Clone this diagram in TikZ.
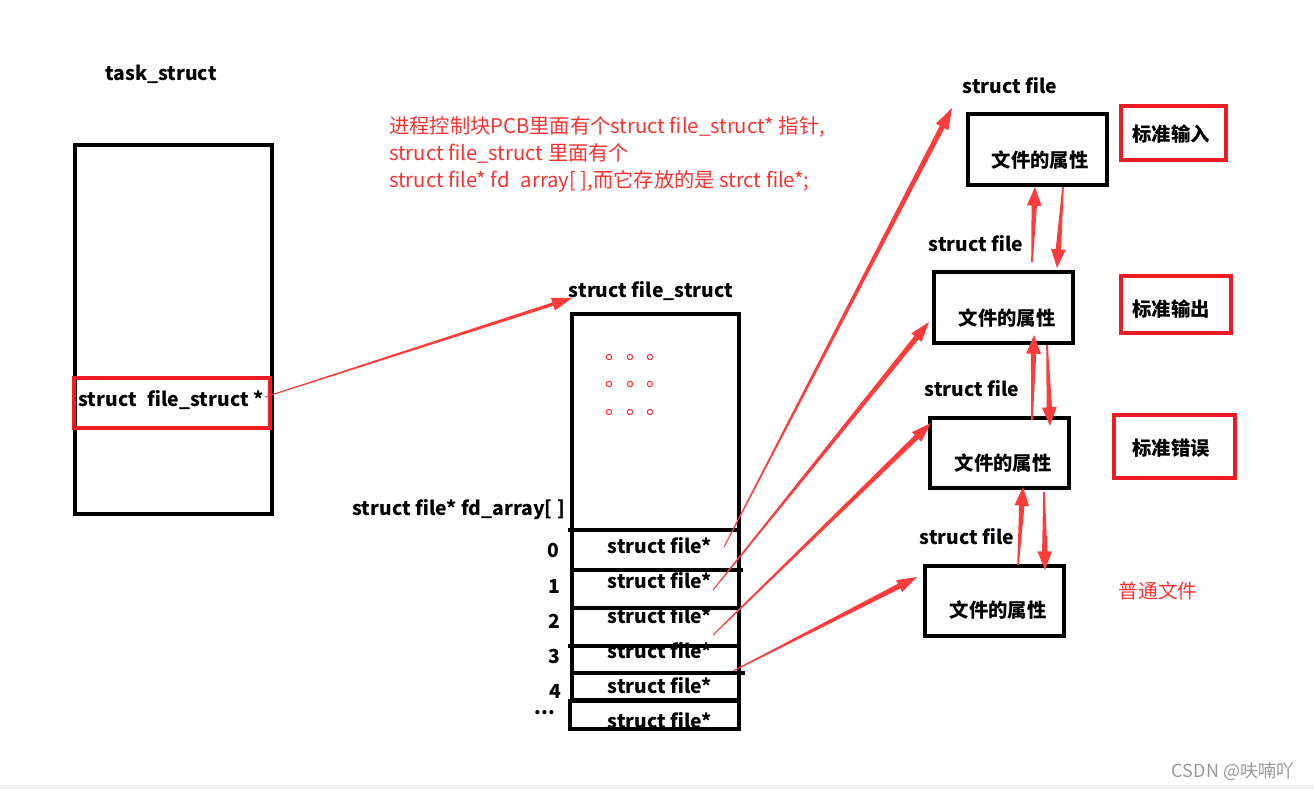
\documentclass[tikz,border=0pt]{standalone}
\usepackage{fontspec}
\setmainfont{Noto Sans CJK SC}
\usetikzlibrary{calc,fit}
\definecolor{arrred}{RGB}{255,60,60}
\definecolor{boxred}{RGB}{237,28,36}
\definecolor{txtred}{RGB}{250,50,50}
\newcommand\taperarrow[6]{%
  \coordinate (hb) at ($(#2)!#5!(#1)$);
  \fill[arrred] ($(#1)!#3!90:(#2)$) -- ($(hb)!#4!90:(#2)$) -- ($(hb)!#6!90:(#2)$) -- (#2)
    -- ($(hb)!#6!-90:(#2)$) -- ($(hb)!#4!-90:(#2)$) -- ($(#1)!#3!-90:(#2)$) -- cycle;}
\tikzset{
  lbl/.style={font=\bfseries\fontsize{14.5}{17}\selectfont, inner sep=0pt},
  zh/.style={font=\bfseries\fontsize{14.5}{17}\selectfont, inner sep=0pt},
  blackbox/.style={draw=black, line width=3pt, inner sep=0pt},
  redbox/.style={draw=boxred, line width=3.2pt, inner sep=0pt},
  rowline/.style={draw=black, line width=3pt},
  dot/.style={draw=txtred, line width=0.8pt, circle, minimum size=4pt, inner sep=0pt},
}
\begin{document}
\begin{tikzpicture}[x=0.75pt,y=-0.75pt]
\useasboundingbox (0,0) rectangle (1314,789);
\fill[white] (0,0) rectangle (1314,789);
\fill[black!5] (0,785) rectangle (1314,789);

% task_struct
\node[lbl] (tasklbl) at (161,74) {task\_struct};
\node[blackbox, fit={(75,145)(272,514)}] (task) {};
\node[redbox, fit={(74,378)(270,428)}] (fsp) {};
\node[lbl] (fsptxt) at (171,400) {struct\hspace{0.55em}file\_struct~*};

% red explanation
\node[anchor=west, align=left, text=txtred, inner sep=0pt,
      font=\fontsize{15.2}{20.3}\selectfont] (note) at (389,154)
  {进程控制块PCB里面有个struct file\_struct* 指针,\\
   struct file\_struct 里面有个\\
   struct file* fd\hspace{0.55em}array[ ],而它存放的是 strct file*;};

% file_struct
\node[lbl] (fslbl) at (651,291) {struct file\_struct};
\node[lbl, anchor=east] (fdlbl) at (565,510) {struct file* fd\_array[ ]};
\node[blackbox, fit={(572,314)(739,700)}] (fs) {};
\foreach \i/\y in {0/546,1/581,2/616,3/651,4/686,5/721}{
  \node[lbl] (cell\i) at (660,\y) {struct file*};
}
\foreach \i/\x/\y in {0/553/550,1/554/586,2/554/621,3/554/656,4/555/691}{
  \node[lbl] (idx\i) at (\x,\y) {\i};
}
\node[lbl] (idxdots) at (545,713) {...};
\draw[rowline] (568,530) -- (739,530);
\draw[rowline] (571,570) -- (743,570);
\draw[rowline] (574,608) -- (739,608);
\draw[rowline] (568,646) -- (741,646);
\draw[rowline] (574,673) -- (745,673);
\node[blackbox, fit={(570,701)(739,729)}] (lastcell) {};
\foreach \x in {609,630,650}{
  \foreach \y in {357,384,412}{
    \node[dot] at (\x,\y) {};
  }
}

% struct file boxes
\node[blackbox, fit={(968,114)(1107,185)}] (f1) {};
\node[blackbox, fit={(934,272)(1073,343)}] (f2) {};
\node[blackbox, fit={(930,418)(1069,488)}] (f3) {};
\node[blackbox, fit={(925,566)(1064,636)}] (f4) {};
\node[zh] (f1t) at (1040,160) {文件的属性};
\node[zh] (f2t) at (1007,318) {文件的属性};
\node[zh] (f3t) at (1003,463) {文件的属性};
\node[zh] (f4t) at (998,610) {文件的属性};
\node[lbl] (sf1) at (1010,86) {struct file};
\node[lbl] (sf2) at (976,244) {struct file};
\node[lbl] (sf3) at (972,389) {struct file};
\node[lbl] (sf4) at (967,537) {struct file};

% labels on right
\node[redbox, fit={(1121,106)(1226,160)}] (r1) {};
\node[redbox, fit={(1121,276)(1231,333)}] (r2) {};
\node[redbox, fit={(1114,415)(1235,478)}] (r3) {};
\node[zh] (r1t) at (1171,134) {标准输入};
\node[zh] (r2t) at (1171,309) {标准输出};
\node[zh] (r3t) at (1171,448) {标准错误};
\node[text=txtred, inner sep=0pt, font=\fontsize{14.8}{17}\selectfont] (plain) at (1158,591) {普通文件};

% arrow endpoints
\coordinate (s) at (265,397);  \coordinate (t) at (572,298);
\coordinate (s0) at (724,547); \coordinate (t0) at (952,108);
\coordinate (s1) at (713,590); \coordinate (t1) at (929,322);
\coordinate (s2) at (713,635); \coordinate (t2) at (931,423);
\coordinate (s3) at (733,671); \coordinate (t3) at (917,577);
\coordinate (u1s) at (1032,262); \coordinate (u1t) at (1035,187);
\coordinate (d1s) at (1063,187); \coordinate (d1t) at (1057,268);
\coordinate (u2s) at (1032,420); \coordinate (u2t) at (1034,335);
\coordinate (d2s) at (1047,345); \coordinate (d2t) at (1050,426);
\coordinate (u3s) at (1018,565); \coordinate (u3t) at (1023,487);
\coordinate (d3s) at (1044,492); \coordinate (d3t) at (1045,570);

\taperarrow{s}{t}{0.4pt}{1.3pt}{15pt}{5pt}
\taperarrow{s0}{t0}{0.4pt}{2pt}{16pt}{5.3pt}
\taperarrow{s1}{t1}{0.4pt}{2pt}{15pt}{5pt}
\taperarrow{s2}{t2}{0.4pt}{2pt}{15pt}{5pt}
\taperarrow{s3}{t3}{0.4pt}{2pt}{15pt}{5pt}
\taperarrow{u1s}{u1t}{0.6pt}{2pt}{14pt}{5.5pt}
\taperarrow{d1s}{d1t}{0.6pt}{2pt}{14pt}{5.5pt}
\taperarrow{u2s}{u2t}{0.6pt}{2pt}{14pt}{5.5pt}
\taperarrow{d2s}{d2t}{0.6pt}{2pt}{14pt}{5.5pt}
\taperarrow{u3s}{u3t}{0.6pt}{2pt}{14pt}{5.5pt}
\taperarrow{d3s}{d3t}{0.6pt}{2pt}{14pt}{5.5pt}

% watermark
\node[text=black!40, inner sep=0pt, font=\fontsize{13.5}{15}\selectfont] (wm) at (1233,771) {CSDN @呋喃吖};
\end{tikzpicture}
\end{document}
